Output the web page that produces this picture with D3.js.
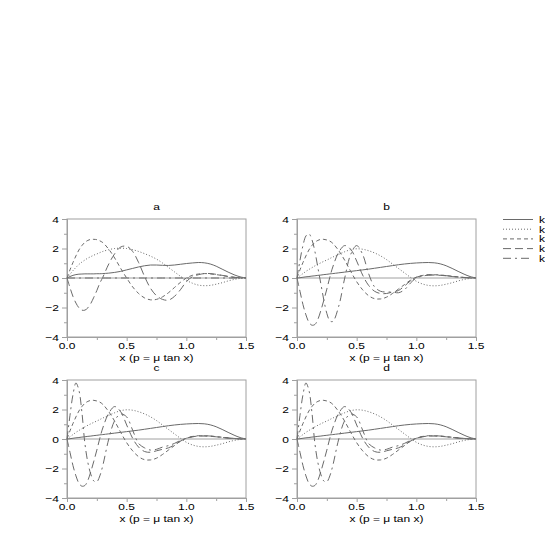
<!DOCTYPE html>
<html><head><meta charset="utf-8">
<script src="https://cdn.jsdelivr.net/npm/d3@7"></script>
<style>body{margin:0;background:#fff}svg{display:block}text{font-family:"Liberation Sans",Arial,sans-serif;fill:#000}</style>
</head><body><svg id="c" width="545" height="545"></svg>
<script>
// x grid (p = mu tan x), shared by all curves
const xs = [0,0.025,0.05,0.075,0.1,0.125,0.15,0.175,0.2,0.225,0.25,0.275,0.3,0.35,0.4,0.45,0.5,0.55,0.6,0.65,0.7,0.75,0.8,0.85,0.9,0.95,1.0,1.05,1.1,1.15,1.2,1.25,1.3,1.35,1.4,1.45,1.5];
const seriesLabels = ["k = 1","k = 2","k = 3","k = 4","k = 5"];
const panelTitles = ["a","b","c","d"];
const xTitle = "x (p = \u03bc tan x)";
const yTicks = [-4,-2,0,2,4];
const yMinor = [-3,-1,1,3];
const xTicks = [0,0.5,1.0,1.5];
const xMinor = [0.25,0.75,1.25];

// panel a
const aK1 = [0,0.1,0.18,0.23,0.26,0.27,0.28,0.28,0.28,0.28,0.29,0.29,0.3,0.33,0.38,0.45,0.55,0.65,0.75,0.83,0.88,0.88,0.86,0.85,0.88,0.93,0.98,1.02,1.05,1.03,0.95,0.8,0.6,0.4,0.22,0.08,0];
const aK2 = [0,0.25,0.5,0.72,0.92,1.08,1.22,1.35,1.45,1.55,1.63,1.72,1.8,1.92,2.0,2.02,2.0,1.92,1.8,1.65,1.48,1.28,1.02,0.72,0.42,0.12,-0.15,-0.35,-0.48,-0.52,-0.5,-0.42,-0.32,-0.2,-0.1,-0.03,0];
const aK3 = [0,0.55,1.05,1.5,1.9,2.2,2.42,2.55,2.62,2.62,2.6,2.52,2.4,1.95,1.35,0.65,0.0,-0.6,-1.05,-1.35,-1.48,-1.45,-1.28,-1.0,-0.65,-0.3,0.0,0.18,0.27,0.3,0.28,0.23,0.17,0.1,0.05,0.01,0];
const aK4 = [0,-0.65,-1.25,-1.7,-2.02,-2.18,-2.18,-2.02,-1.72,-1.3,-0.85,-0.35,0.05,0.95,1.65,2.1,2.15,1.8,1.05,0.1,-0.7,-1.2,-1.45,-1.5,-1.25,-0.8,-0.25,0.08,0.22,0.3,0.3,0.25,0.18,0.11,0.05,0.01,0];
const aK5 = [0,0,0,0,0,0,0,0,0,0,0,0,0,0,0,0,0,0,0,0,0,0,0,0,0,0,0,0,0,0,0,0,0,0,0,0,0];

// panel b
const bK1 = [0,0.02,0.05,0.08,0.1,0.13,0.15,0.18,0.2,0.23,0.25,0.28,0.3,0.35,0.4,0.45,0.5,0.55,0.6,0.66,0.72,0.78,0.84,0.9,0.95,0.99,1.02,1.04,1.05,1.03,0.96,0.83,0.65,0.45,0.26,0.1,0];
const bK2 = [0,0.15,0.3,0.45,0.58,0.7,0.82,0.93,1.03,1.13,1.22,1.32,1.42,1.6,1.78,1.92,1.98,1.95,1.85,1.7,1.5,1.25,0.95,0.65,0.35,0.05,-0.22,-0.4,-0.5,-0.53,-0.5,-0.42,-0.32,-0.2,-0.1,-0.03,0];
const bK3 = [0,0.55,1.05,1.5,1.9,2.2,2.42,2.55,2.62,2.62,2.58,2.5,2.35,1.85,1.2,0.45,-0.25,-0.8,-1.2,-1.4,-1.42,-1.3,-1.05,-0.75,-0.45,-0.15,0.05,0.17,0.22,0.22,0.2,0.16,0.12,0.08,0.04,0.01,0];
const bK4 = [0,-0.9,-1.8,-2.5,-3.0,-3.2,-3.15,-2.8,-2.2,-1.5,-0.75,0.05,0.75,1.75,2.2,1.95,1.15,0.2,-0.5,-0.9,-1.05,-1.05,-0.95,-0.85,-0.55,-0.2,0.05,0.15,0.2,0.2,0.18,0.15,0.1,0.06,0.03,0.01,0];
const bK5 = [0,1.2,2.2,2.85,3.0,2.6,1.8,0.7,-0.4,-1.5,-2.4,-2.9,-2.95,-1.9,0.0,1.6,2.2,1.6,0.3,-0.6,-0.9,-0.95,-0.95,-1.0,-0.8,-0.35,0.0,0.12,0.2,0.22,0.2,0.16,0.11,0.07,0.03,0.01,0];

// panel c
const cK1 = [0,0.02,0.05,0.08,0.1,0.13,0.15,0.18,0.2,0.23,0.25,0.28,0.3,0.35,0.4,0.45,0.5,0.55,0.6,0.66,0.72,0.78,0.84,0.9,0.95,0.99,1.02,1.04,1.05,1.03,0.96,0.83,0.65,0.45,0.26,0.1,0];
const cK2 = [0,0.15,0.3,0.45,0.58,0.7,0.82,0.93,1.03,1.13,1.22,1.32,1.42,1.6,1.78,1.92,1.98,1.95,1.85,1.7,1.5,1.25,0.95,0.65,0.35,0.05,-0.22,-0.4,-0.5,-0.53,-0.5,-0.42,-0.32,-0.2,-0.1,-0.03,0];
const cK3 = [0,0.55,1.05,1.5,1.9,2.2,2.42,2.55,2.62,2.62,2.58,2.5,2.35,1.85,1.2,0.45,-0.25,-0.8,-1.2,-1.4,-1.42,-1.3,-1.05,-0.75,-0.45,-0.15,0.05,0.17,0.22,0.22,0.2,0.16,0.12,0.08,0.04,0.01,0];
const cK4 = [0,-0.9,-1.8,-2.5,-3.0,-3.2,-3.15,-2.8,-2.2,-1.5,-0.75,0.05,0.75,1.75,2.2,1.85,0.95,0.05,-0.55,-0.85,-0.9,-0.8,-0.7,-0.6,-0.4,-0.15,0.05,0.15,0.2,0.2,0.18,0.15,0.1,0.06,0.03,0.01,0];
const cK5 = [0,1.6,3.0,3.8,3.3,1.8,-0.3,-1.6,-2.4,-2.85,-2.9,-2.5,-1.8,0.0,1.25,1.7,1.5,0.6,-0.3,-0.6,-0.75,-0.7,-0.55,-0.45,-0.3,-0.1,0.05,0.15,0.2,0.22,0.2,0.16,0.11,0.07,0.03,0.01,0];

// panel d
const dK1 = [0,0.02,0.05,0.08,0.1,0.13,0.15,0.18,0.2,0.23,0.25,0.28,0.3,0.35,0.4,0.45,0.5,0.55,0.6,0.66,0.72,0.78,0.84,0.9,0.95,0.99,1.02,1.04,1.05,1.03,0.96,0.83,0.65,0.45,0.26,0.1,0];
const dK2 = [0,0.15,0.3,0.45,0.58,0.7,0.82,0.93,1.03,1.13,1.22,1.32,1.42,1.6,1.78,1.92,1.98,1.95,1.85,1.7,1.5,1.25,0.95,0.65,0.35,0.05,-0.22,-0.4,-0.5,-0.53,-0.5,-0.42,-0.32,-0.2,-0.1,-0.03,0];
const dK3 = [0,0.55,1.05,1.5,1.9,2.2,2.42,2.55,2.62,2.62,2.58,2.5,2.35,1.85,1.2,0.45,-0.25,-0.8,-1.2,-1.4,-1.42,-1.3,-1.05,-0.75,-0.45,-0.15,0.05,0.17,0.22,0.22,0.2,0.16,0.12,0.08,0.04,0.01,0];
const dK4 = [0,-0.9,-1.8,-2.5,-3.0,-3.2,-3.15,-2.8,-2.2,-1.5,-0.75,0.05,0.75,1.75,2.2,1.85,0.95,0.05,-0.55,-0.85,-0.9,-0.8,-0.7,-0.6,-0.4,-0.15,0.05,0.15,0.2,0.2,0.18,0.15,0.1,0.06,0.03,0.01,0];
const dK5 = [0,1.6,3.0,3.8,3.3,1.8,-0.3,-1.6,-2.4,-2.85,-2.9,-2.5,-1.8,0.0,1.25,1.7,1.5,0.6,-0.3,-0.6,-0.75,-0.7,-0.55,-0.45,-0.3,-0.1,0.05,0.15,0.2,0.22,0.2,0.16,0.11,0.07,0.03,0.01,0];

const panelData = [[aK1,aK2,aK3,aK4,aK5],[bK1,bK2,bK3,bK4,bK5],[cK1,cK2,cK3,cK4,cK5],[dK1,dK2,dK3,dK4,dK5]];

// layout / style
const dashes = [null,"1,2","4,3","8,4","8,4,2,4"];
const lineColor = "#6a6a6a";
const axisColor = "#a0a0a0";
const W = 179, H = 118;
const origins = [[67,219],[297,219],[67,380],[297,380]];
const SY = 0.8; // vertical squash of the text, as in the reference

const svg = d3.select("#c");
const fmtY = d => d < 0 ? "\u2212" + Math.abs(d) : String(d);

function label(parent, x, y, txt, anchor) {
  return parent.append("text")
    .attr("transform", `translate(${x},${y}) scale(1,${SY})`)
    .attr("text-anchor", anchor || "middle")
    .attr("font-size", 12).text(txt);
}

panelData.forEach((series, p) => {
  const [ox, oy] = origins[p];
  const x = d3.scaleLinear().domain([0,1.5]).range([ox, ox + W]);
  const y = d3.scaleLinear().domain([-4,4]).range([oy + H, oy]);
  const g = svg.append("g");

  // frame
  g.append("rect").attr("x", ox).attr("y", oy).attr("width", W).attr("height", H)
    .attr("fill","none").attr("stroke", axisColor).attr("stroke-width",1);

  // axes (ticks via d3 axis; labels drawn separately)
  const axes = [
    g.append("g").attr("transform",`translate(${ox},0)`).call(d3.axisLeft(y).tickValues(yTicks).tickSize(5).tickFormat("")),
    g.append("g").attr("transform",`translate(${ox},0)`).call(d3.axisLeft(y).tickValues(yMinor).tickSize(3).tickFormat("")),
    g.append("g").attr("transform",`translate(0,${oy+H})`).call(d3.axisBottom(x).tickValues(xTicks).tickSize(4).tickFormat("")),
    g.append("g").attr("transform",`translate(0,${oy+H})`).call(d3.axisBottom(x).tickValues(xMinor).tickSize(3).tickFormat(""))
  ];
  axes.forEach(a => {
    a.selectAll(".domain").attr("stroke", axisColor);
    a.selectAll(".tick line").attr("stroke", axisColor);
  });
  yTicks.forEach(v => label(g, ox - 8, y(v) + 3.5, fmtY(v), "end"));
  xTicks.forEach(v => label(g, x(v), oy + H + 12, d3.format(".1f")(v), "middle"));

  // zero line
  g.append("line").attr("x1", x(0)).attr("x2", x(1.5)).attr("y1", y(0)).attr("y2", y(0))
    .attr("stroke", axisColor).attr("stroke-width", 1);

  // curves
  const line = d3.line().x((d,i) => x(xs[i])).y(d => y(d)).curve(d3.curveCatmullRom);
  series.forEach((s, k) => {
    g.append("path").datum(s).attr("d", line).attr("fill","none")
      .attr("stroke", lineColor).attr("stroke-width", 1)
      .attr("stroke-dasharray", dashes[k]);
  });

  // title & x label
  label(g, ox + W/2, oy - 9, panelTitles[p]);
  label(g, ox + W/2, oy + H + 24, xTitle);
});

// legend
const leg = svg.append("g");
seriesLabels.forEach((lab, k) => {
  const ly = 219.5 + k * 9.7;
  leg.append("line").attr("x1", 503).attr("x2", 533).attr("y1", ly).attr("y2", ly)
    .attr("stroke", lineColor).attr("stroke-width", 1).attr("stroke-dasharray", dashes[k]);
  label(leg, 539, ly + 3.5, lab, "start");
});
</script></body></html>
